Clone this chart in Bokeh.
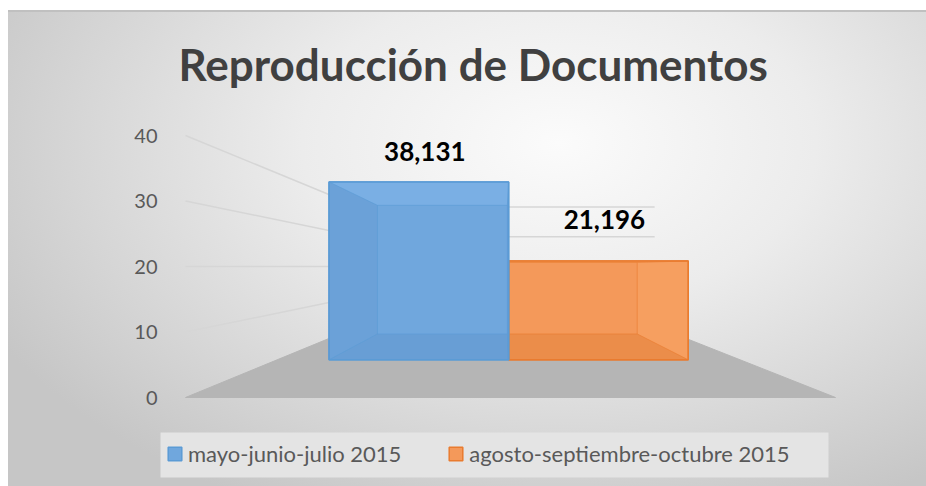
from bokeh.plotting import figure
from bokeh.models import ColumnDataSource, FixedTicker, Legend, LegendItem, BoxAnnotation, Range1d
from bokeh.core.properties import value
from bokeh.embed import file_html
from bokeh.resources import INLINE

# ---------------- data ----------------
series_names = ["mayo-junio-julio 2015", "agosto-septiembre-octubre 2015"]
series_values = [38.131, 21.196]          # miles de documentos
value_labels = ["38,131", "21,196"]
y_ticks = [0, 10, 20, 30, 40]
chart_title = "Reproducción de Documentos"

# ---------------- style / geometry ----------------
W, H = 926, 486
FRAME_LEFT, FRAME_TOP = 160, 100          # canvas px
PX_X, PX_Y = 65.0, 6.55                   # px per unit on the front plane
X0_PX, Y0_PX = 185, 397                   # canvas px of the origin on the front plane
FLOOR_W, BAR_W = 10.0, 3.88
VX, VY = 4.9, 20.0                        # vanishing point (data units)
F_WALL, F_FRONT, F_BACK = 0.4545, 0.712, 0.515

bar_style = [
    dict(base="#70a7dd", edge="#5b9bd5", side="#5f95cc", top="#8cc0f0", bottom="#5a8fc6"),
    dict(base="#f4995a", edge="#e97b2f", side="#fbae70", top="#fbae70", bottom="#d9782f"),
]


def proj(X, v, f):
    return VX + (X - VX) * f, VY + (v - VY) * f


def poly(pts):
    xs, ys = zip(*[proj(*pt) for pt in pts])
    return list(xs), list(ys)


x_start = (FRAME_LEFT - X0_PX) / PX_X
x_end = x_start + (W - FRAME_LEFT) / PX_X
y_start = -(H - Y0_PX) / PX_Y
y_end = (Y0_PX - FRAME_TOP) / PX_Y

bg = ("linear-gradient(#c0c0c0, #c0c0c0) 8px 10px / 100% 2px no-repeat, "
      "radial-gradient(ellipse 70% 85% at 60% 28%, #fbfbfb 0%, #ececec 40%, #d6d6d6 75%, #c6c6c6 100%) "
      "8px 10px / calc(100% - 8px) calc(100% - 10px) no-repeat, #ffffff")

p = figure(width=W, height=H, output_backend="svg", toolbar_location=None,
           x_range=Range1d(x_start, x_end), y_range=Range1d(y_start, y_end),
           x_axis_type=None, min_border_left=FRAME_LEFT, min_border_right=0,
           min_border_top=FRAME_TOP, min_border_bottom=0,
           styles={"background": bg})
p.border_fill_color = None
p.background_fill_color = None
p.outline_line_color = None
p.grid.visible = False

# title
p.title.text = chart_title
p.title.text_font = "Lato"
p.title.text_font_size = "44px"
p.title.text_font_style = "bold"
p.title.text_color = "#404040"
p.title.align = "left"
p.title.offset = 18
p.title.standoff = 22

# y axis
ax = p.yaxis[0]
ax.ticker = FixedTicker(ticks=y_ticks)
ax.axis_line_color = None
ax.major_tick_line_color = None
ax.minor_tick_line_color = None
ax.major_tick_out = 0
ax.major_tick_in = 0
ax.major_label_standoff = 3
ax.major_label_text_font = "Lato"
ax.major_label_text_font_size = "20px"
ax.major_label_text_color = "#595959"

# floor
fx, fy = poly([(0, 0, 1.0), (FLOOR_W, 0, 1.0), (FLOOR_W, 0, F_WALL), (0, 0, F_WALL)])
p.patch(fx, fy, fill_color="#b5b5b5", line_color="#b5b5b5", line_width=1)

# gridlines: left wall + back wall
gx, gy = [], []
for t in y_ticks[1:]:
    a = proj(0, t, 1.0)
    b = proj(0, t, F_WALL)
    c = proj(FLOOR_W, t, F_WALL)
    gx.append([a[0], b[0], c[0]])
    gy.append([a[1], b[1], c[1]])
p.multi_line(gx, gy, line_color="#d6d6d6", line_width=1.5)

# bars
n = len(series_values)
left0 = (FLOOR_W - n * BAR_W) / 2
front_renderers = [None] * n
lab_x, lab_y = [0.0] * n, [0.0] * n
for i in reversed(range(n)):
    v = series_values[i]
    st = bar_style[i]
    X0 = left0 + i * BAR_W
    X1 = X0 + BAR_W
    fr, bk = F_FRONT, F_BACK
    front = poly([(X0, 0, fr), (X1, 0, fr), (X1, v, fr), (X0, v, fr)])
    front_renderers[i] = p.patch(*front, fill_color=st["base"], line_color=st["edge"], line_width=1.5)
    faces = [
        (poly([(X0, 0, fr), (X0, 0, bk), (X0, v, bk), (X0, v, fr)]), st["side"], 0.30),
        (poly([(X1, 0, fr), (X1, 0, bk), (X1, v, bk), (X1, v, fr)]), st["side"], 0.30),
        (poly([(X0, v, fr), (X1, v, fr), (X1, v, bk), (X0, v, bk)]), st["top"], 0.35),
        (poly([(X0, 0, fr), (X1, 0, fr), (X1, 0, bk), (X0, 0, bk)]), st["bottom"], 0.35),
    ]
    p.patches([f[0][0] for f in faces], [f[0][1] for f in faces],
              fill_color=[f[1] for f in faces], fill_alpha=[f[2] for f in faces], line_color=None)
    # inner edges (back face + connecting edges)
    ex, ey = [], []
    back = poly([(X0, 0, bk), (X1, 0, bk), (X1, v, bk), (X0, v, bk), (X0, 0, bk)])
    ex.append(back[0]); ey.append(back[1])
    for (X, yy) in [(X0, 0), (X1, 0), (X1, v), (X0, v)]:
        s = poly([(X, yy, fr), (X, yy, bk)])
        ex.append(s[0]); ey.append(s[1])
    p.multi_line(ex, ey, line_color=st["edge"], line_alpha=0.6, line_width=1)
    p.patch(*front, fill_alpha=0, line_color=st["edge"], line_width=1.5)
    lab_x[i], _ = proj((X0 + X1) / 2, v, fr)
    _, lab_y[i] = proj((X0 + X1) / 2, v, (fr + bk) / 2)

lab_src = ColumnDataSource(dict(x=lab_x, y=lab_y, text=value_labels))
p.text("x", "y", text="text", source=lab_src, x_offset=6, y_offset=-42,
       text_align="center", text_baseline="middle", text_font=value("Lato"),
       text_font_style="bold", text_font_size="26px", text_color="#000000")

# legend band
band = BoxAnnotation(left=122, right=828, top=432, bottom=477,
                     left_units="canvas", right_units="canvas", top_units="canvas", bottom_units="canvas",
                     fill_color="#e4e4e4", fill_alpha=1, line_color=None, level="underlay")
p.add_layout(band)

legend = Legend(items=[LegendItem(label=series_names[i], renderers=[front_renderers[i]]) for i in range(n)],
                location=(1, 14), orientation="horizontal", padding=5, margin=0, spacing=46,
                glyph_width=17, glyph_height=17, label_standoff=5,
                label_text_font="Lato", label_text_font_size="22px", label_text_color="#595959",
                background_fill_alpha=0, border_line_alpha=0)
p.add_layout(legend)

open("out.html", "w").write(file_html(p, INLINE))
